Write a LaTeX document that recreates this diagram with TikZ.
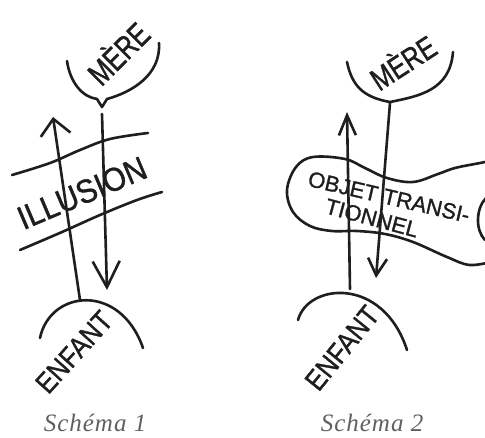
\documentclass[tikz,border=0pt]{standalone}
\usepackage{fontspec}
\setmainfont{Liberation Serif}
\newfontfamily\handfont[FakeBold=1.2]{Liberation Sans}
\newfontfamily\capfont[LetterSpace=4]{Liberation Serif}
\usetikzlibrary{arrows.meta}
\definecolor{inkc}{HTML}{1E1E1E}
\definecolor{capc}{HTML}{606060}
\begin{document}
\begin{tikzpicture}[x=1pt,y=-1pt,
  ink/.style={draw=inkc,line width=2.6pt,line cap=round,line join=round},
  hand/.style={font=\handfont\fontsize{#1}{#1}\selectfont,text=inkc,inner sep=0pt},
  capt/.style={font=\capfont\itshape\fontsize{25}{25}\selectfont,text=capc,inner sep=0pt,anchor=base}]
\useasboundingbox (0,0) rectangle (485,437);
\clip (0,0) rectangle (485,437);
\fill[white] (0,0) rectangle (485,437);
% ---------------- Schema 1 ----------------
% mother cup
\draw[ink] (67,61) .. controls (70,82) and (82,97) .. (97,99) -- (102,107) -- (107,99)
  .. controls (132,92) and (161,75) .. (159,43);
% illusion band
\draw[ink] plot[smooth,tension=0.6] coordinates {(12,175) (50,163) (80,150) (110,139) (148,133)};
\draw[ink] plot[smooth,tension=0.6] coordinates {(20,250) (62,232) (100,215) (137,200) (162,192)};
% arrows
\coordinate (c1top) at (102,114);
\coordinate (c1tip) at (107,290);
\coordinate (u1bot) at (80,300);
\coordinate (u1tip) at (53,117);
\draw[ink,-{Straight Barb[length=26pt,width=27pt]}] (c1top) -- (c1tip);
\draw[ink,-{Straight Barb[length=16pt,width=30pt]}] (u1bot) -- (u1tip);
% child arc
\draw[ink] (40,338) .. controls (50,290) and (120,282) .. (143,348);
% texts
\node[hand=27,rotate=45] (mere1) at (117,52) {\scalebox{0.92}[1.2]{MÈRE}};
\node[hand=30,rotate=23] (illu) at (82,193) {\scalebox{1}[1.1]{ILLUSION}};
\node[hand=25,rotate=48] (enf1) at (74,352) {\scalebox{1}[1.15]{ENFANT}};
\node[capt] (cap1) at (95,431) {Schéma 1};
% ---------------- Schema 2 ----------------
\draw[ink] (347,62) .. controls (352,85) and (362,97) .. (390,102)
  .. controls (420,96) and (450,90) .. (453,52);
% transitional object blob
\draw[ink] plot[smooth,tension=0.6] coordinates {(495,160) (480,163) (455,168) (438,174) (413,182) (387,178) (365,168) (345,159) (313,157) (296,167) (287,190) (293,212) (310,226) (332,231) (357,231) (385,234) (413,242) (447,257) (470,265) (495,261)};
\draw[ink] (486,198) .. controls (476,208) and (475,230) .. (485,240);
% arrows
\coordinate (c2top) at (390,103);
\coordinate (c2tip) at (376,278);
\coordinate (u2bot) at (350,289);
\coordinate (u2tip) at (347,112);
\draw[ink,-{Straight Barb[length=17pt,width=19pt]}] (c2top) -- (c2tip);
\draw[ink,-{Straight Barb[length=20pt,width=17pt]}] (u2bot) -- (u2tip);
% child arc
\draw[ink] (298,320) .. controls (308,283) and (383,276) .. (407,350);
% texts
\node[hand=26,rotate=33] (mere2) at (402,61) {\scalebox{0.95}[1.2]{MÈRE}};
\node[hand=22,rotate=-13] (obj1) at (389,197) {OBJET TRANSI-};
\node[hand=22,rotate=-15] (obj2) at (372,218) {TIONNEL};
\node[hand=25,rotate=51] (enf2) at (342,348) {\scalebox{1}[1.15]{ENFANT}};
\node[capt] (cap2) at (372,431) {Schéma 2};
\end{tikzpicture}
\end{document}
